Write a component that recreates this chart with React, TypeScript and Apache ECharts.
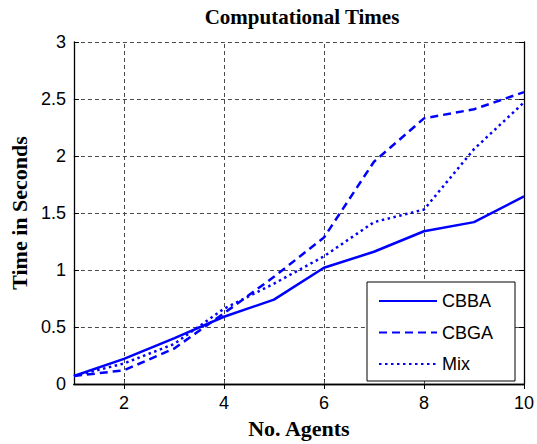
import React, { useEffect, useRef } from "react";
import * as echarts from "echarts";

const agents = [1, 2, 3, 4, 5, 6, 7, 8, 9, 10];
const cbba = [0.07, 0.22, 0.4, 0.59, 0.74, 1.02, 1.16, 1.34, 1.42, 1.645];
const cbga = [0.07, 0.12, 0.31, 0.62, 0.94, 1.285, 1.95, 2.33, 2.41, 2.56];
const mix = [0.07, 0.18, 0.35, 0.66, 0.88, 1.12, 1.42, 1.53, 2.06, 2.47];
const xTicks = [2, 4, 6, 8, 10];
const xGrid = [2, 4, 6, 8];
const seriesNames = ["CBBA", "CBGA", "Mix"];

const BLUE = "#0000ff";
const GRID_COLOR = "#4a4a4a";
const SANS = "'Liberation Sans', Arial, sans-serif";
const SERIF = "'Liberation Serif', 'Times New Roman', serif";

export default function App() {
  const ref = useRef<HTMLDivElement>(null);
  useEffect(() => {
    document.body.style.margin = "0";
    if (!ref.current) return;
    const chart = echarts.init(ref.current, null, { renderer: "svg" });
    const toPairs = (ys: number[]) => agents.map((x, i) => [x, ys[i]]);
    const axisLineStyle = { color: "#000", width: 1.3 };
    const option: any = {
      animation: false,
      backgroundColor: "#fff",
      title: {
        text: "Computational Times",
        left: 302,
        top: 6,
        padding: 0,
        textAlign: "center",
        textStyle: { fontFamily: SERIF, fontWeight: "bold", fontSize: 21, color: "#000" },
      },
      grid: { left: 73, right: 11, top: 42, bottom: 56, containLabel: false },
      legend: {
        orient: "vertical",
        left: 367,
        top: 282,
        padding: [10, 22, 8, 11],
        itemWidth: 58,
        itemHeight: 14,
        itemGap: 13.5,
        borderColor: "#000",
        borderWidth: 1,
        backgroundColor: "#fff",
        itemStyle: { opacity: 0 },
        textStyle: { fontFamily: SANS, fontSize: 18, color: "#000" },
        data: seriesNames,
      },
      xAxis: [
        {
          type: "value",
          min: 1,
          max: 10,
          position: "bottom",
          name: "No. Agents",
          nameLocation: "middle",
          nameGap: 33,
          nameTextStyle: { fontFamily: SERIF, fontWeight: "bold", fontSize: 22, color: "#000" },
          axisLine: { show: true, lineStyle: axisLineStyle },
          axisTick: { show: true, inside: true, length: 5, customValues: xTicks, lineStyle: { color: "#000" } },
          axisLabel: { customValues: xTicks, margin: 10, fontFamily: SANS, fontSize: 18, color: "#000" },
          splitLine: { show: false },
        },
        {
          type: "value",
          min: 1,
          max: 10,
          position: "top",
          axisLine: { show: true, lineStyle: axisLineStyle },
          axisTick: { show: true, inside: true, length: 5, customValues: xTicks, lineStyle: { color: "#000" } },
          axisLabel: { show: false },
          splitLine: { show: false },
        },
      ],
      yAxis: [
        {
          type: "value",
          min: 0,
          max: 3,
          interval: 0.5,
          position: "left",
          name: "Time in Seconds",
          nameLocation: "middle",
          nameGap: 40,
          nameTextStyle: { fontFamily: SERIF, fontWeight: "bold", fontSize: 22, color: "#000" },
          axisLine: { show: true, lineStyle: axisLineStyle },
          axisTick: { show: true, inside: true, length: 5, lineStyle: { color: "#000" } },
          axisLabel: { margin: 8, fontFamily: SANS, fontSize: 18, color: "#000", formatter: (v: number) => String(v) },
          splitLine: { show: true, lineStyle: { color: GRID_COLOR, type: [4, 3], width: 1 } },
        },
        {
          type: "value",
          min: 0,
          max: 3,
          interval: 0.5,
          position: "right",
          axisLine: { show: true, lineStyle: axisLineStyle },
          axisTick: { show: true, inside: true, length: 5, lineStyle: { color: "#000" } },
          axisLabel: { show: false },
          splitLine: { show: false },
        },
      ],
      series: [
        {
          name: "CBBA",
          type: "line",
          data: toPairs(cbba),
          symbol: "none",
          z: 3,
          lineStyle: { color: BLUE, width: 2.5, type: "solid" },
          itemStyle: { color: BLUE },
          markLine: {
            silent: true,
            symbol: ["none", "none"],
            label: { show: false },
            z: 1,
            lineStyle: { color: GRID_COLOR, type: [4, 3], width: 1 },
            data: xGrid.map((v) => ({ xAxis: v })),
          },
        },
        {
          name: "CBGA",
          type: "line",
          data: toPairs(cbga),
          symbol: "none",
          z: 3,
          lineStyle: { color: BLUE, width: 2.5, type: [8, 5] },
          itemStyle: { color: BLUE },
        },
        {
          name: "Mix",
          type: "line",
          data: toPairs(mix),
          symbol: "none",
          z: 3,
          lineStyle: { color: BLUE, width: 2.5, type: [2.5, 3.5] },
          itemStyle: { color: BLUE },
        },
      ],
    };
    chart.setOption(option);
    return () => chart.dispose();
  }, []);
  return <div ref={ref} style={{ width: 537, height: 444 }} />;
}
